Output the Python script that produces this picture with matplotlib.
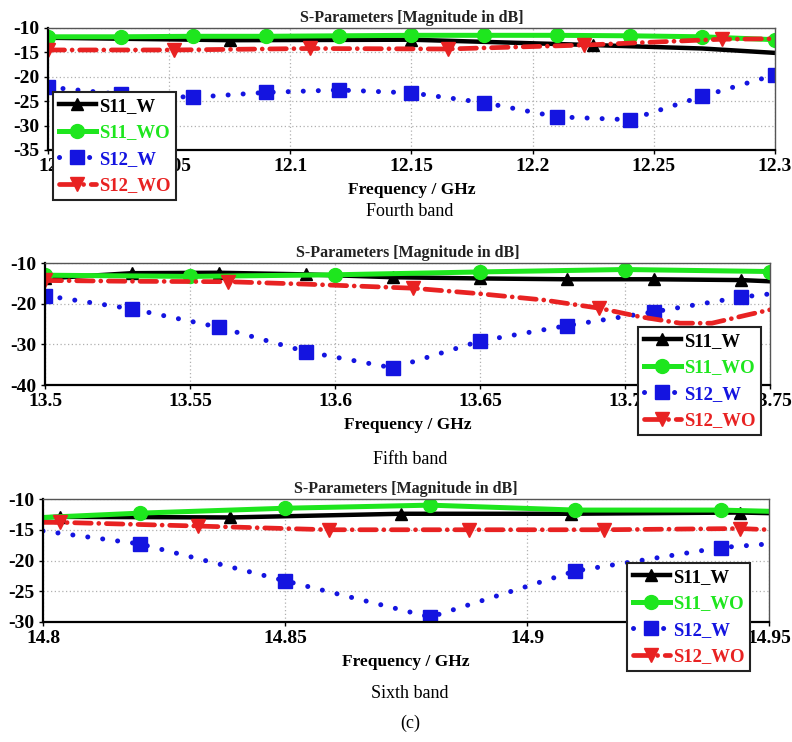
import matplotlib
matplotlib.use("Agg")
import matplotlib.pyplot as plt

# ---- Fourth band (12.0 - 12.3 GHz)
b4_x_s11w = [12.0, 12.075, 12.15, 12.225, 12.27, 12.3]
b4_y_s11w = [-12.0, -12.5, -12.4, -13.5, -14.2, -15.1]
b4_x_s11wo = [12.0, 12.03, 12.06, 12.09, 12.12, 12.15, 12.18, 12.21, 12.24, 12.27, 12.3]
b4_y_s11wo = [-11.8, -11.8, -11.7, -11.7, -11.6, -11.5, -11.5, -11.5, -11.6, -11.8, -12.4]
b4_x_s12w = [12.0, 12.03, 12.06, 12.09, 12.12, 12.15, 12.18, 12.21, 12.24, 12.27, 12.3]
b4_y_s12w = [-22.1, -23.6, -24.2, -23.2, -22.7, -23.3, -25.3, -28.2, -28.8, -24.0, -19.6]
b4_x_s12wo = [12.0, 12.052, 12.108, 12.165, 12.221, 12.278, 12.3]
b4_y_s12wo = [-14.5, -14.5, -14.2, -14.3, -13.5, -12.3, -12.2]

# ---- Fifth band (13.5 - 13.75 GHz)
b5_x_s11w = [13.5, 13.53, 13.56, 13.59, 13.62, 13.65, 13.68, 13.71, 13.74, 13.75]
b5_y_s11w = [-13.8, -12.5, -12.4, -12.8, -13.5, -13.8, -14.0, -14.0, -14.2, -14.5]
b5_x_s11wo = [13.5, 13.55, 13.6, 13.65, 13.7, 13.75]
b5_y_s11wo = [-13.0, -13.3, -12.9, -12.2, -11.6, -12.1]
b5_x_s12w = [13.5, 13.53, 13.56, 13.59, 13.62, 13.65, 13.68, 13.71, 13.74, 13.75]
b5_y_s12w = [-18.0, -21.3, -25.8, -31.8, -35.8, -29.2, -25.4, -22.0, -18.4, -17.6]
b5_x_s12wo = [13.5, 13.53, 13.563, 13.59, 13.627, 13.649, 13.672, 13.691,
              13.705, 13.719, 13.73, 13.742, 13.75]
b5_y_s12wo = [-14.3, -14.5, -14.6, -15.2, -16.2, -17.5, -19.1, -21.1,
              -23.2, -24.8, -24.8, -22.8, -21.5]

# ---- Sixth band (14.8 - 14.95 GHz)
b6_x_s11w = [14.8, 14.8035, 14.8386, 14.874, 14.909, 14.944, 14.95]
b6_y_s11w = [-13.0, -12.9, -13.0, -12.4, -12.4, -12.2, -12.3]
b6_x_s11wo = [14.8, 14.82, 14.85, 14.88, 14.91, 14.94, 14.95]
b6_y_s11wo = [-13.0, -12.3, -11.5, -11.0, -11.8, -11.8, -12.0]
b6_x_s12w = [14.8, 14.82, 14.85, 14.88, 14.91, 14.94, 14.95]
b6_y_s12w = [-15.2, -17.3, -23.3, -29.2, -21.7, -17.9, -17.3]
b6_x_s12wo = [14.8, 14.8035, 14.832, 14.859, 14.888, 14.916, 14.944, 14.95]
b6_y_s12wo = [-13.8, -13.8, -14.4, -15.0, -15.0, -15.0, -14.8, -15.0]

labels = ["S11_W", "S11_WO", "S12_W", "S12_WO"]
colors = ["black", "#1ee61e", "#1414e0", "#e82222"]
captions = ["Fourth band", "Fifth band", "Sixth band"]

plt.rcParams["font.family"] = ["Liberation Serif", "DejaVu Serif"]
plt.rcParams["axes.unicode_minus"] = False

W, H = 792, 742
fig = plt.figure(figsize=(W / 100, H / 100), dpi=100)


def px_axes(left, top, right, bottom):
    return fig.add_axes([left / W, 1 - bottom / H, (right - left) / W, (bottom - top) / H])


def draw(ax, series, marks, xlim, ylim, xticks, yticks, xticklabels, leg_xy):
    styles = [
        dict(ls="-", lw=3.2, marker="^", ms=9),
        dict(ls="-", lw=3.6, marker="o", ms=10),
        dict(ls=(0, (0.01, 3.0)), lw=3.6, marker="s", ms=10, dash_capstyle="round"),
        dict(ls=(0, (3.5, 1.6, 0.01, 1.6)), lw=3.4, marker="v", ms=10, dash_capstyle="round"),
    ]
    for (x, y), mk, st, c, lab in zip(series, marks, styles, colors, labels):
        ax.plot(x, y, color=c, markevery=mk, label=lab, **st)
    ax.set_xlim(*xlim)
    ax.set_ylim(*ylim)
    ax.set_xticks(xticks)
    ax.set_xticklabels(xticklabels)
    ax.set_yticks(yticks)
    ax.grid(True, ls=(0, (1, 2)), color="#b0b0b0", lw=0.9)
    ax.tick_params(labelsize=14, length=3, width=1, pad=3)
    for t in ax.get_xticklabels() + ax.get_yticklabels():
        t.set_fontweight("bold")
    for s in ["top", "right"]:
        ax.spines[s].set_color("#555555")
        ax.spines[s].set_linewidth(1.0)
    for s in ["left", "bottom"]:
        ax.spines[s].set_color("black")
        ax.spines[s].set_linewidth(1.6)
    ax.set_title("S-Parameters [Magnitude in dB]", fontsize=11.5, fontweight="bold",
                 color="#222222", pad=4)
    ax.set_xlabel("Frequency / GHz", fontsize=12.5, fontweight="bold", labelpad=5)
    leg = ax.legend(loc="upper left", bbox_to_anchor=(leg_xy[0] / W, 1 - leg_xy[1] / H),
                    bbox_transform=fig.transFigure, frameon=True,
                    fancybox=False, framealpha=1, edgecolor="#222222",
                    handlelength=2.0, handletextpad=0.15, labelspacing=0.5,
                    borderpad=0.3, borderaxespad=0, prop={"weight": "bold", "size": 13.5})
    leg.get_frame().set_linewidth(1.5)
    for txt, c in zip(leg.get_texts(), colors):
        txt.set_color(c)
    leg.set_zorder(10)


ax4 = px_axes(48, 28, 775, 150)
draw(ax4,
     [(b4_x_s11w, b4_y_s11w), (b4_x_s11wo, b4_y_s11wo), (b4_x_s12w, b4_y_s12w), (b4_x_s12wo, b4_y_s12wo)],
     [slice(0, 4), None, None, slice(0, 6)],
     (12.0, 12.3), (-35, -10),
     [12.0, 12.05, 12.1, 12.15, 12.2, 12.25, 12.3], [-35, -30, -25, -20, -15, -10],
     ["12", "12.05", "12.1", "12.15", "12.2", "12.25", "12.3"], (53, 92))

ax5 = px_axes(45, 263, 770, 385)
draw(ax5,
     [(b5_x_s11w, b5_y_s11w), (b5_x_s11wo, b5_y_s11wo), (b5_x_s12w, b5_y_s12w), (b5_x_s12wo, b5_y_s12wo)],
     [slice(0, 9), None, slice(0, 9), [0, 2, 4, 7]],
     (13.5, 13.75), (-40, -10),
     [13.5, 13.55, 13.6, 13.65, 13.7, 13.75], [-40, -30, -20, -10],
     ["13.5", "13.55", "13.6", "13.65", "13.7", "13.75"], (638, 327))

ax6 = px_axes(43, 499, 769, 622)
draw(ax6,
     [(b6_x_s11w, b6_y_s11w), (b6_x_s11wo, b6_y_s11wo), (b6_x_s12w, b6_y_s12w), (b6_x_s12wo, b6_y_s12wo)],
     [slice(1, 6), slice(1, 6), slice(1, 6), slice(1, 7)],
     (14.8, 14.95), (-30, -10),
     [14.8, 14.85, 14.9, 14.95], [-30, -25, -20, -15, -10],
     ["14.8", "14.85", "14.9", "14.95"], (627, 563))

for cap, yy in zip(captions, [211, 460, 693]):
    fig.text(410 / W, 1 - yy / H, cap, ha="center", va="center", fontsize=13)
fig.text(410 / W, 1 - 723 / H, "(c)", ha="center", va="center", fontsize=13)

fig.savefig("out.png", dpi=100)
